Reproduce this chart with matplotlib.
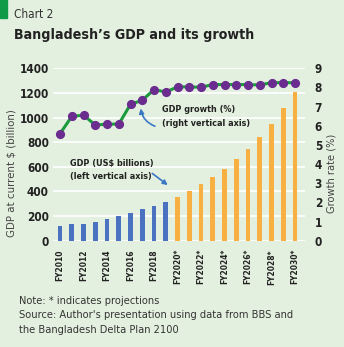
import numpy as np
import matplotlib.pyplot as plt
from matplotlib.patches import Rectangle

years = ['FY2010', 'FY2011', 'FY2012', 'FY2013', 'FY2014', 'FY2015', 'FY2016',
         'FY2017', 'FY2018', 'FY2019', 'FY2020*', 'FY2021*', 'FY2022*', 'FY2023*',
         'FY2024*', 'FY2025*', 'FY2026*', 'FY2027*', 'FY2028*', 'FY2029*', 'FY2030*']
gdp = [122, 135, 138, 154, 179, 203, 227, 257, 281, 317, 357, 406, 460, 517,
       585, 660, 744, 842, 947, 1074, 1210]
growth = [5.59, 6.49, 6.55, 6.04, 6.08, 6.09, 7.12, 7.33, 7.89, 7.76, 8.03,
          8.03, 8.01, 8.15, 8.15, 8.15, 8.15, 8.13, 8.25, 8.25, 8.25]
n_actual = 10  # FY2010-FY2019 are actual figures, the rest are projections

bg = '#e4f0df'
blue = '#4a72c0'
orange = '#f9b043'
green = '#1a9a3c'
purple = '#6a2c8f'
dark = '#222222'

plt.rcParams['font.family'] = ['DejaVu Sans']
plt.rcParams['font.stretch'] = 'condensed'

fig = plt.figure(figsize=(3.44, 3.47), dpi=100, facecolor=bg)
W, H = 344, 347

ax = fig.add_axes([53 / W, 1 - 240.7 / H, (305 - 53) / W, (240.7 - 68.3) / H])
ax.set_facecolor(bg)
x = np.arange(len(years))
colors = [blue if i < n_actual else orange for i in x]
ax.bar(x, gdp, width=0.4, color=colors, zorder=3)
ax.set_xlim(-0.6, 20.85)
ax.set_ylim(0, 1400)
ax.set_yticks(range(0, 1401, 200))
ax.yaxis.grid(True, color='white', linewidth=1.2, zorder=0)
for s in ax.spines.values():
    s.set_visible(False)
ax.tick_params(axis='y', length=0, labelsize=8.5, colors=dark, pad=3)
ax.tick_params(axis='x', length=0, labelsize=6, colors=dark, pad=6)
ax.set_xticks(x[::2])
ax.set_xticklabels(years[::2], rotation=90)
for lab in ax.get_yticklabels() + ax.get_xticklabels():
    lab.set_fontweight('bold')
ax.set_ylabel('GDP at current $ (billion)', fontsize=8.2, color='#444444')
ax.yaxis.set_label_coords(-0.143, 0.39)

ax2 = ax.twinx()
ax2.plot(x, growth, color=green, linewidth=2.2, zorder=4)
ax2.plot(x, growth, 'o', color=purple, markersize=5.6, zorder=5)
ax2.set_ylim(0, 9)
ax2.set_yticks(range(0, 10))
for s in ax2.spines.values():
    s.set_visible(False)
ax2.tick_params(axis='y', length=0, labelsize=8.5, colors=dark, pad=7)
for lab in ax2.get_yticklabels():
    lab.set_fontweight('bold')
ax2.set_ylabel('Growth rate (%)', fontsize=7.9, color='#444444')
ax2.yaxis.set_label_coords(1.087, 0.39)

# annotations
ax2.text(8.65, 6.5, 'GDP growth (%)\n(right vertical axis)', fontsize=6.5,
         fontweight='bold', color=dark, va='center', linespacing=1.7)
ax2.annotate('', xy=(6.85, 7.05), xytext=(8.3, 5.93),
             arrowprops=dict(arrowstyle='-|>', color='#3b78c4', lw=1.2,
                             connectionstyle='arc3,rad=-0.35', mutation_scale=7))
ax.text(0.85, 574, 'GDP (US$ billions)\n(left vertical axis)', fontsize=6.5,
        fontweight='bold', color=dark, va='center', linespacing=1.7)
ax.annotate('', xy=(9.36, 438), xytext=(7.66, 560),
            arrowprops=dict(arrowstyle='-|>', color='#3b78c4', lw=1.2,
                            mutation_scale=7))

# header
fig.patches.append(Rectangle((0, 1 - 18 / H), 7 / W, 18 / H, transform=fig.transFigure,
                             color='#0f9a48'))
fig.text(14 / W, 1 - 15 / H, 'Chart 2', fontsize=8.5, color='#333333', va='center')
fig.text(14 / W, 1 - 35 / H, 'Bangladesh\u2019s GDP and its growth', fontsize=10.2,
         fontweight='bold', color=dark, va='center')

fig.text(19 / W, 1 - 301 / H, 'Note: * indicates projections', fontsize=7.9,
         color='#333333', va='center')
fig.text(19 / W, 1 - 315.5 / H, "Source: Author's presentation using data from BBS and",
         fontsize=7.9, color='#333333', va='center')
fig.text(19 / W, 1 - 330 / H, 'the Bangladesh Delta Plan 2100', fontsize=7.9,
         color='#333333', va='center')

fig.savefig('out.png', dpi=100, facecolor=bg)
